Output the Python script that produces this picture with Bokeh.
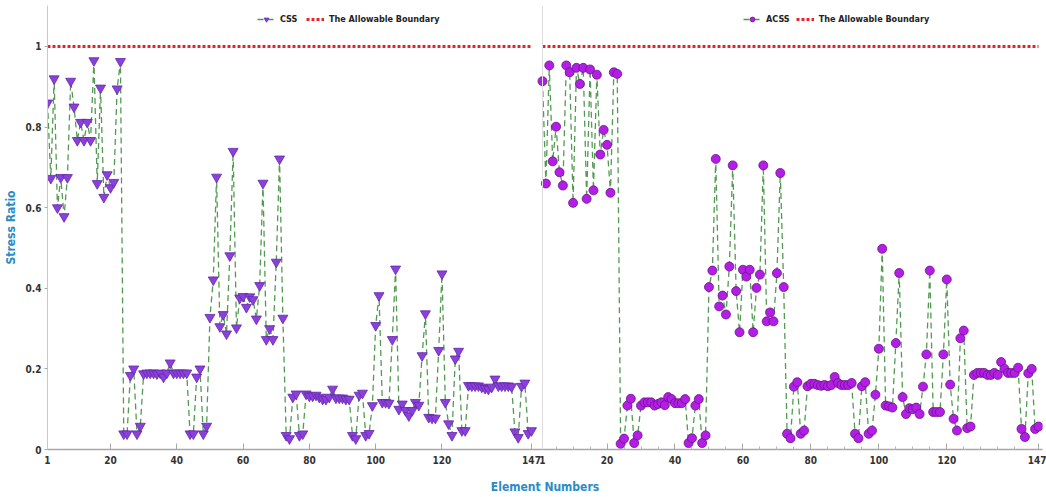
from bokeh.plotting import figure
from bokeh.models import Range1d, FixedTicker, Legend, LegendItem, Span
from bokeh.embed import file_html
from bokeh.resources import INLINE

# ---------------- data ----------------
elements = list(range(1, 148))

css = [
    0.86, 0.673, 0.92, 0.60, 0.675, 0.578, 0.675, 0.914, 0.85, 0.767, 0.812, 0.767,
    0.812, 0.767, 0.965, 0.66, 0.897, 0.626, 0.682, 0.65, 0.663, 0.895, 0.963,
    0.039, 0.039, 0.184, 0.20, 0.039, 0.058,
    0.188, 0.19, 0.19, 0.19, 0.188, 0.19, 0.18, 0.19, 0.215, 0.19, 0.19, 0.19, 0.19, 0.19,
    0.039, 0.039, 0.18, 0.20, 0.039, 0.058,
    0.328, 0.421, 0.676, 0.305, 0.335, 0.287, 0.481, 0.74, 0.302, 0.376, 0.38, 0.353,
    0.379, 0.372, 0.324, 0.407, 0.661, 0.273, 0.30, 0.273, 0.465, 0.721, 0.326,
    0.035, 0.027, 0.13, 0.138, 0.035, 0.039,
    0.138, 0.133, 0.133, 0.135, 0.13, 0.125, 0.125, 0.13, 0.15, 0.128, 0.128, 0.128, 0.125, 0.125,
    0.035, 0.027, 0.135, 0.14, 0.035, 0.04,
    0.109, 0.308, 0.382, 0.117, 0.117, 0.115, 0.273, 0.448, 0.10, 0.113, 0.097, 0.084,
    0.097, 0.117, 0.11, 0.233, 0.337, 0.08, 0.078, 0.078, 0.246, 0.436, 0.117,
    0.064, 0.035, 0.225, 0.244, 0.047, 0.047,
    0.159, 0.158, 0.158, 0.158, 0.155, 0.152, 0.15, 0.155, 0.175, 0.158, 0.158, 0.158, 0.158, 0.156,
    0.044, 0.03, 0.157, 0.165, 0.04, 0.047,
]

acss = [
    0.914, 0.66, 0.953, 0.715, 0.801, 0.688, 0.655, 0.953, 0.936, 0.612, 0.947, 0.907,
    0.947, 0.622, 0.943, 0.643, 0.93, 0.732, 0.793, 0.756, 0.637, 0.936, 0.932,
    0.014, 0.027, 0.109, 0.126, 0.016, 0.035,
    0.109, 0.117, 0.117, 0.117, 0.109, 0.113, 0.117, 0.11, 0.13, 0.125, 0.115, 0.115, 0.115, 0.125,
    0.016, 0.028, 0.109, 0.125, 0.016, 0.035,
    0.403, 0.444, 0.721, 0.355, 0.382, 0.335, 0.454, 0.705, 0.393, 0.291, 0.446, 0.429,
    0.446, 0.291, 0.401, 0.434, 0.705, 0.318, 0.34, 0.318, 0.4375, 0.686, 0.403,
    0.039, 0.028, 0.156, 0.167, 0.039, 0.047,
    0.157, 0.163, 0.163, 0.16, 0.158, 0.16, 0.157, 0.16, 0.18, 0.165, 0.16, 0.16, 0.16, 0.165,
    0.039, 0.028, 0.157, 0.167, 0.039, 0.047,
    0.136, 0.25, 0.498, 0.109, 0.107, 0.104, 0.264, 0.438, 0.13, 0.088, 0.1025, 0.10,
    0.104, 0.088, 0.156, 0.236, 0.444, 0.093, 0.093, 0.093, 0.236, 0.422, 0.161,
    0.076, 0.047, 0.276, 0.295, 0.053, 0.057,
    0.185, 0.19, 0.19, 0.19, 0.185, 0.185, 0.19, 0.185, 0.217, 0.20, 0.19, 0.19, 0.19, 0.203,
    0.051, 0.031, 0.189, 0.20, 0.051, 0.057,
]

allowable = [1.0] * len(elements)

x_tick_values = [1, 20, 40, 60, 80, 100, 120, 147]
x_minor_right = [5, 10, 15, 25, 30, 35, 45, 50, 55, 65, 70, 75, 85, 90, 95, 105, 110, 115, 125, 130, 135, 140]
y_tick_values = [0, 0.2, 0.4, 0.6, 0.8, 1.0]

# ---------------- layout constants ----------------
W, H = 1046, 497
FL, FR = 47, 1042          # frame left / right (px)
FRAME_W = FR - FL
SL = 484 / 146             # px per element, left panel
R1 = 542                   # px of right panel element 1
SR = (1038 - R1) / 146     # px per element, right panel

left_start = 1.0
left_end = left_start + FRAME_W / SL
right_start = 1 - (R1 - FL) / SR
right_end = right_start + FRAME_W / SR


def right_in_left(n):
    return round(1 + (R1 - FL + (n - 1) * SR) / SL, 4)


FONT = "'Liberation Sans Narrow', 'DejaVu Sans Condensed', sans-serif"
GREEN = "#3f8f3f"
RED = "#e3262b"
BLUE = "#2a8cc4"

p = figure(width=W, height=H, output_backend="svg", toolbar_location=None,
           x_range=Range1d(left_start, left_end), y_range=Range1d(0, 1.1017),
           min_border_left=FL, min_border_right=W - FR, min_border_top=5, min_border_bottom=48)
p.extra_x_ranges = {"right": Range1d(right_start, right_end)}

p.outline_line_color = None
p.xgrid.visible = False
p.ygrid.visible = False
p.background_fill_color = "white"
p.border_fill_color = "white"

# left panel (CSS)
red_l = p.line(elements, allowable, line_color=RED, line_width=3, line_dash="3 2")
line_l = p.line(elements, css, line_color=GREEN, line_width=1.3, line_dash="6 4", line_alpha=0.9)
sc_l = p.scatter(elements, css, marker="inverted_triangle", size=10,
                 fill_color="#8a40dc", line_color="#6527a8", line_width=0.8)

# right panel (ACSS)
red_r = p.line(elements, allowable, line_color=RED, line_width=3, line_dash="3 2", x_range_name="right")
line_r = p.line(elements, acss, line_color=GREEN, line_width=1.3, line_dash="6 4", line_alpha=0.9,
                x_range_name="right")
sc_r = p.scatter(elements, acss, marker="circle", size=9,
                 fill_color="#b31ee6", line_color="#6b1288", line_width=0.8, x_range_name="right")

# faint axis line of the right panel
p.add_layout(Span(location=right_in_left(1), dimension="height", line_color="#dddddd", line_width=1))

# x axis
ticks = [float(t) for t in x_tick_values] + [right_in_left(t) for t in x_tick_values]
labels = {float(t): str(t) for t in x_tick_values}
labels.update({right_in_left(t): str(t) for t in x_tick_values})
minor = [right_in_left(t) for t in x_minor_right]
p.xaxis.ticker = FixedTicker(ticks=ticks, minor_ticks=minor)
p.xaxis.major_label_overrides = labels
p.xaxis.axis_label = "Element Numbers"
p.xaxis.axis_label_text_font = FONT
p.xaxis.axis_label_text_font_style = "bold"
p.xaxis.axis_label_text_font_size = "12px"
p.xaxis.axis_label_text_color = BLUE
p.xaxis.axis_label_standoff = 13
p.xaxis.major_label_text_font = FONT
p.xaxis.major_label_text_font_size = "10px"
p.xaxis.major_label_text_font_style = "bold"
p.xaxis.major_label_text_color = "#333333"
p.xaxis.major_label_standoff = 6
p.xaxis.axis_line_color = "#a8a8a8"
p.xaxis.axis_line_width = 1.5
p.xaxis.major_tick_in = 6
p.xaxis.major_tick_out = 0
p.xaxis.minor_tick_in = 3
p.xaxis.minor_tick_out = 0
p.xaxis.major_tick_line_color = "#a8a8a8"
p.xaxis.minor_tick_line_color = "#b8b8b8"

# y axis
p.yaxis.ticker = FixedTicker(ticks=y_tick_values)
p.yaxis.major_label_overrides = {0.0: "0", 0.2: "0.2", 0.4: "0.4", 0.6: "0.6", 0.8: "0.8", 1.0: "1"}
p.yaxis.axis_label = "Stress Ratio"
p.yaxis.axis_label_text_font = FONT
p.yaxis.axis_label_text_font_style = "bold"
p.yaxis.axis_label_text_font_size = "12px"
p.yaxis.axis_label_text_color = BLUE
p.yaxis.axis_label_standoff = 5
p.yaxis.major_label_text_font = FONT
p.yaxis.major_label_text_font_size = "10px"
p.yaxis.major_label_text_font_style = "bold"
p.yaxis.major_label_text_color = "#333333"
p.yaxis.major_label_standoff = 3
p.yaxis.axis_line_color = "#c8c8c8"
p.yaxis.major_tick_in = 0
p.yaxis.major_tick_out = 3
p.yaxis.minor_tick_line_color = None
p.yaxis.major_tick_line_color = "#a8a8a8"


def make_legend(items, x):
    lg = Legend(items=items, location=(x, 424), orientation="horizontal",
                padding=0, margin=0, spacing=6, glyph_width=18, glyph_height=12,
                label_height=12, label_standoff=5, label_text_font=FONT,
                label_text_font_size="9px", label_text_font_style="bold",
                label_text_color="#222222", background_fill_alpha=0,
                border_line_color=None)
    return lg


p.add_layout(make_legend([LegendItem(label="CSS", renderers=[line_l, sc_l]),
                          LegendItem(label="The Allowable Boundary", renderers=[red_l])], 257 - FL), "center")
p.add_layout(make_legend([LegendItem(label="ACSS", renderers=[line_r, sc_r]),
                          LegendItem(label="The Allowable Boundary", renderers=[red_r])], 743 - FL), "center")

open("out.html", "w").write(file_html(p, INLINE))
